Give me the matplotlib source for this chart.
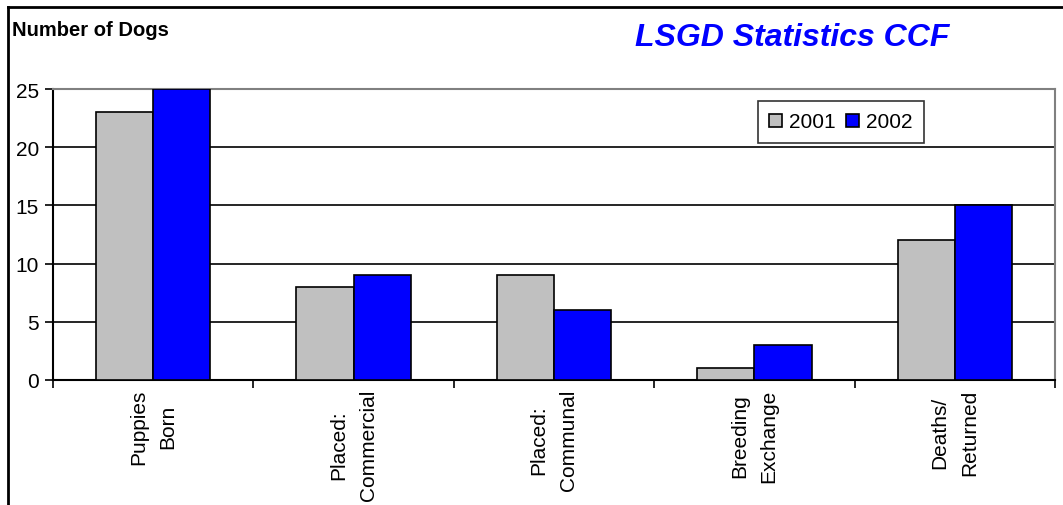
import numpy as np
import matplotlib.pyplot as plt
from matplotlib.lines import Line2D

plt.rcParams['font.family'] = ['Liberation Sans', 'DejaVu Sans']

categories = ['Puppies\nBorn', 'Placed:\nCommercial', 'Placed:\nCommunal',
              'Breeding\nExchange', 'Deaths/\nReturned']
dogs_2001 = [23, 8, 9, 1, 12]
dogs_2002 = [25, 9, 6, 3, 15]

fig = plt.figure(figsize=(10.63, 5.06), dpi=100)
ax = fig.add_axes([53 / 1063, 1 - 381 / 506, (1055 - 53) / 1063, (381 - 90) / 506])

x = np.arange(len(categories))
w = 0.285
ax.bar(x - w / 2, dogs_2001, w, color='#c0c0c0', edgecolor='black', linewidth=1.2,
       label='2001', zorder=3)
ax.bar(x + w / 2, dogs_2002, w, color='#0000ff', edgecolor='black', linewidth=1.2,
       label='2002', zorder=3)

ax.set_xlim(-0.5, len(categories) - 0.5)
ax.set_ylim(0, 25)
ax.set_yticks([0, 5, 10, 15, 20, 25])
for y in [5, 10, 15, 20]:
    ax.axhline(y, color='black', linewidth=1.2, zorder=1)

# category ticks sit between groups, labels at group centres
ax.set_xticks(np.arange(-0.5, len(categories)), minor=False)
ax.set_xticklabels([])
ax.set_xticks(x, minor=True)
ax.set_xticklabels(categories, minor=True, rotation=90, fontsize=15,
                   ha='center', va='top', multialignment='center', linespacing=1.7)
ax.tick_params(axis='x', which='minor', length=0, pad=6)
ax.tick_params(axis='x', which='major', length=6, width=1.2, direction='out')
ax.tick_params(axis='y', length=6, width=1.2, direction='out', labelsize=15, pad=4)

ax.spines['left'].set_linewidth(1.5)
ax.spines['bottom'].set_linewidth(1.5)
ax.spines['top'].set_color('#808080')
ax.spines['right'].set_color('#808080')
ax.spines['top'].set_linewidth(1.5)
ax.spines['right'].set_linewidth(1.5)

leg = ax.legend(loc='upper left', bbox_to_anchor=(705 / 1002, 1 - 12 / 291), ncol=2,
                fontsize=15, frameon=True, fancybox=False, edgecolor='black',
                handlelength=0.6, handleheight=0.6, handletextpad=0.35,
                columnspacing=0.5, borderpad=0.55, borderaxespad=0)
leg.get_frame().set_linewidth(1.2)

fig.text(12 / 1063, 1 - 30 / 506, 'Number of Dogs', fontsize=14.5, fontweight='bold',
         va='center', ha='left')
fig.text(792 / 1063, 1 - 38 / 506, 'LSGD Statistics CCF', fontsize=23,
         fontweight='bold', style='italic', color='#0000ff', va='center', ha='center')

# outer chart frame (only top and left edges visible)
fig.add_artist(Line2D([8 / 1063, 1], [1 - 8 / 506, 1 - 8 / 506], color='black',
                      linewidth=2, transform=fig.transFigure))
fig.add_artist(Line2D([8 / 1063, 8 / 1063], [0, 1 - 8 / 506], color='black',
                      linewidth=2, transform=fig.transFigure))

fig.savefig('out.png', dpi=100)
